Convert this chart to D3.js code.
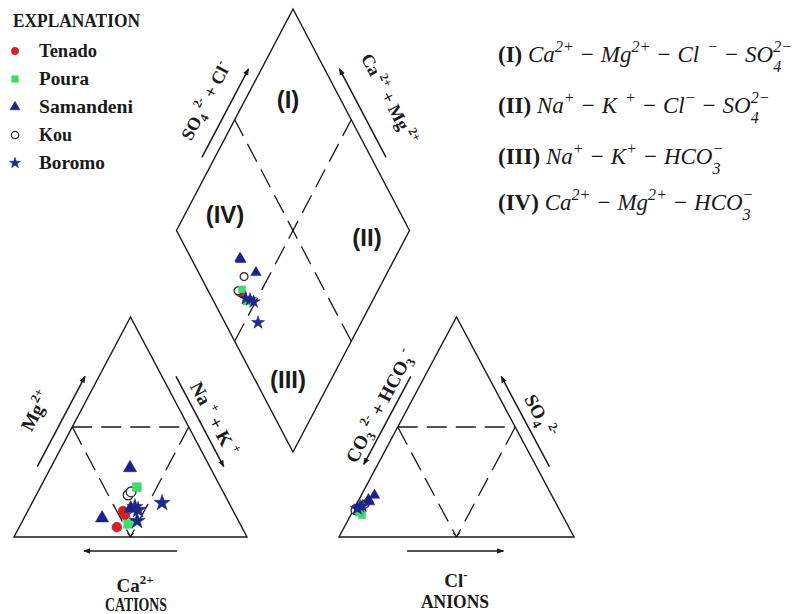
<!DOCTYPE html>
<html><head><meta charset="utf-8">
<script src="https://cdn.jsdelivr.net/npm/d3@7"></script>
<style>body{margin:0;background:#fff}svg{display:block}text{white-space:pre}</style>
</head><body>
<svg id="c" width="795" height="614"></svg>
<script>
// ---------------- DATA (percent of meq/L) ----------------
const groups = ["Tenado","Poura","Samandeni","Kou","Boromo"];
const sampleGroup = ["Tenado","Tenado","Tenado","Poura","Poura","Samandeni","Samandeni","Samandeni","Kou","Kou","Boromo","Boromo","Boromo","Boromo"];
const caPct   = [47.3,47.4,53.6,35.9,48.1,34.5,57.9,43.4,41.5,39.5,41.3,40.6,28.7,43.5];
const mgPct   = [11.8,10.0, 4.5,22.7, 5.9,31.4, 8.6,13.0,19.1,20.5,13.6,12.3,15.5, 7.3];
const naKPct  = [40.9,42.6,41.9,41.4,46.0,34.1,33.5,43.6,39.4,40.0,45.1,47.1,55.8,49.2];
const hco3Pct = [87.0,86.0,86.5,85.2,86.0,79.0,79.0,75.4,81.4,87.2,85.6,84.0,85.8,83.0];
const so4Pct  = [12.0,12.5,13.0,10.0,11.0,17.0,16.0,19.0,15.0,12.0,13.0,14.0,13.0,14.0];
const clPct   = [ 1.0, 1.5, 0.5, 4.8, 3.0, 4.0, 5.0, 5.6, 3.6, 0.8, 1.4, 2.0, 1.2, 3.0];
const regionLabels = ["(I)","(II)","(III)","(IV)"];

// ---------------- SETUP ----------------
const svg = d3.select("#c");
const INK = "#1a1a1a";
const SERIF = "'Liberation Serif','Times New Roman',serif";
const SANS = "'Liberation Sans',Arial,sans-serif";

const catX = d3.scaleLinear().domain([0,100]).range([14,247]);
const anX  = d3.scaleLinear().domain([0,100]).range([339,574]);
const triY = d3.scaleLinear().domain([0,100]).range([537,317]);
const diaX = d3.scaleLinear().domain([-100,100]).range([176.5,409.5]);
const diaY = d3.scaleLinear().domain([0,200]).range([452,9]);

const cat = (mg, na) => [catX(na + mg/2), triY(mg)];
const an  = (so4, cl) => [anX(cl + so4/2), triY(so4)];
const dia = (a, c) => [diaX(a - c), diaY(a + c)];

const styleOf = {
  Tenado:   {type:d3.symbolCircle,   fill:"#d8202a", stroke:"#b8141c", sw:0.6},
  Poura:    {type:d3.symbolSquare,   fill:"#3fdc6e", stroke:"#30c85c", sw:0.5},
  Samandeni:{type:d3.symbolTriangle, fill:"#1c2390", stroke:"#141a78", sw:0.5},
  Kou:      {type:d3.symbolCircle,   fill:"#ffffff", stroke:"#2a2a2a", sw:1.3},
  Boromo:   {type:d3.symbolStar,     fill:"#1c2a8c", stroke:"#152078", sw:0.5}
};

// arrow marker
const defs = svg.append("defs");
defs.append("marker").attr("id","ah").attr("viewBox","0 0 10 10").attr("refX",9).attr("refY",5)
  .attr("markerWidth",7).attr("markerHeight",7).attr("markerUnits","userSpaceOnUse").attr("orient","auto")
  .append("path").attr("d","M0,1 L10,5 L0,9 Z").attr("fill",INK);

const line = d3.line();
const frame = svg.append("g").attr("fill","none").attr("stroke",INK).attr("stroke-width",1.4);

// outlines
frame.append("path").attr("d", line([cat(0,0), cat(0,100), cat(100,0)]) + "Z");
frame.append("path").attr("d", line([an(0,0), an(0,100), an(100,0)]) + "Z");
frame.append("path").attr("d", line([dia(0,0), dia(100,0), dia(100,100), dia(0,100)]) + "Z");

// dashed subdivisions
const dash = svg.append("g").attr("fill","none").attr("stroke",INK).attr("stroke-width",1.3)
  .attr("stroke-dasharray","20,9");
[[cat(50,0),cat(50,50)],[cat(50,0),cat(0,50)],[cat(50,50),cat(0,50)],
 [an(50,0),an(50,50)],[an(50,0),an(0,50)],[an(50,50),an(0,50)],
 [dia(50,0),dia(50,100)],[dia(0,50),dia(100,50)]
].forEach(s => dash.append("path").attr("d", line(s)));
// tiny ticks at base midpoints
[cat(0,50), an(0,50)].forEach(p => {
  svg.append("path").attr("d", `M${p[0]-3},${p[1]-4} L${p[0]},${p[1]} L${p[0]+3},${p[1]-4}`)
    .attr("fill","none").attr("stroke",INK).attr("stroke-width",1);
});

// arrows along edges
function edgeArrow(A, B, t0, t1, dx, dy) {
  const p = t => [A[0]+(B[0]-A[0])*t + dx, A[1]+(B[1]-A[1])*t + dy];
  svg.append("path").attr("d", line([p(t0), p(t1)])).attr("stroke",INK).attr("stroke-width",1.5)
    .attr("fill","none").attr("marker-end","url(#ah)");
}
edgeArrow(cat(0,0), cat(100,0), 0.32, 0.73, -14, 0);
edgeArrow(cat(100,0), cat(0,100), 0.27, 0.68, 14, 0);
edgeArrow(cat(0,100), cat(0,0), 0.30, 0.70, 0, 14);
edgeArrow(an(100,0), an(0,0), 0.27, 0.67, -14, 0);
edgeArrow(an(0,100), an(100,0), 0.32, 0.73, 13, 0);
edgeArrow(an(0,0), an(0,100), 0.29, 0.70, 0, 14);
edgeArrow(dia(0,100), dia(100,100), 0.33, 0.73, -13, 0);
edgeArrow(dia(100,0), dia(100,100), 0.33, 0.73, 15, 0);

// ---------------- rich text helper ----------------
function rich(parent, segs, size, family, opts = {}) {
  const g = parent.append("g");
  const supScale = opts.supScale || 0.68;
  let x = 0, supX = 0, supW = 0;
  segs.forEach(s => {
    const k = s.k || "n";
    const fs = k === "n" ? size : size * supScale;
    let y = 0, sx = x + (s.gap || 0);
    if (k === "sup") y = -size * 0.45;
    if (k === "sub") y = size * 0.24;
    if (k === "stack") { sx = supX; y = size * 0.43; }
    const bold = s.bold !== undefined ? s.bold : !!opts.bold;
    const ital = s.italic !== undefined ? s.italic : !!opts.italic;
    const t = g.append("text").attr("x", sx).attr("y", y).attr("font-size", fs)
      .attr("font-family", s.family || family).attr("font-weight", bold ? "bold" : "normal")
      .attr("font-style", ital ? "italic" : "normal").attr("fill", INK).text(s.t);
    const w = t.node().getComputedTextLength();
    if (k === "sup") { supX = sx; supW = w; x = sx + w; }
    else if (k === "stack") { x = Math.max(supX + supW, sx + w); }
    else x = sx + w;
  });
  return {g, w: x};
}
function placeLabel(segs, cx, cy, angle, size, opts) {
  const holder = svg.append("g");
  const r = rich(holder, segs, size, SERIF, opts);
  holder.attr("transform", `translate(${cx},${cy}) rotate(${angle}) translate(${-r.w/2},${size*0.33})`);
}
function fitText(x, y, str, size, len, anchor) {
  return svg.append("text").attr("x", x).attr("y", y).attr("text-anchor", anchor || "start")
    .attr("font-family", SERIF).attr("font-weight", "bold").attr("font-size", size)
    .attr("textLength", len).attr("lengthAdjust", "spacingAndGlyphs").attr("fill", INK).text(str);
}

// axis labels
const B = {bold:true};
placeLabel([{t:"Mg"},{t:"2+",k:"sup",gap:1}], 36, 411, -62, 19, B);
placeLabel([{t:"Na"},{t:"+",k:"sup",gap:4},{t:" + K"},{t:"+",k:"sup",gap:4}], 214, 419, 62, 19, B);
placeLabel([{t:"Ca"},{t:"2+",k:"sup"}], 135, 586, 0, 19, B);
fitText(136, 611, "CATIONS", 18, 62, "middle");
placeLabel([{t:"CO"},{t:"3",k:"sub"},{t:"2-",k:"sup",gap:3},{t:" + HCO"},{t:"3",k:"sub"},{t:"-",k:"sup",gap:2}], 380, 406, -62, 19, B);
placeLabel([{t:"SO"},{t:"4",k:"sub"},{t:" 2-",k:"sup"}], 540, 416, 62, 19, B);
placeLabel([{t:"Cl"},{t:"-",k:"sup"}], 456, 581, 0, 19, B);
fitText(455, 608, "ANIONS", 18, 68, "middle");
placeLabel([{t:"SO"},{t:"4",k:"sub"},{t:"2-",k:"sup",gap:3},{t:" + Cl"},{t:"-",k:"sup",gap:1}], 206, 101, -62, 18, B);
placeLabel([{t:"Ca"},{t:" 2+",k:"sup"},{t:" + Mg"},{t:" 2+",k:"sup"}], 389, 99, 62, 18, B);

// region labels
const regionPos = [[288,100],[367,238],[288,380],[225,215]];
regionLabels.forEach((lab,i) => {
  svg.append("text").attr("x",regionPos[i][0]).attr("y",regionPos[i][1]+8).attr("text-anchor","middle")
    .attr("font-family",SANS).attr("font-weight","bold").attr("font-size",24).attr("fill",INK).text(lab);
});

// ---------------- formulas ----------------
const I = {italic:true, supScale:0.70};
const formulas = [
  [{t:"(I)",bold:true,italic:false},{t:" Ca"},{t:"2+",k:"sup"},{t:" − Mg"},{t:"2+",k:"sup"},{t:" − Cl"},{t:"−",k:"sup",gap:8},{t:" − SO"},{t:"2−",k:"sup"},{t:"4",k:"stack"}],
  [{t:"(II)",bold:true,italic:false},{t:" Na"},{t:"+",k:"sup"},{t:" − K"},{t:"+",k:"sup",gap:8},{t:" − Cl"},{t:"−",k:"sup"},{t:" − SO"},{t:"2−",k:"sup"},{t:"4",k:"stack"}],
  [{t:"(III)",bold:true,italic:false},{t:" Na"},{t:"+",k:"sup"},{t:" − K"},{t:"+",k:"sup"},{t:" − HCO"},{t:"−",k:"sup"},{t:"3",k:"stack"}],
  [{t:"(IV)",bold:true,italic:false},{t:" Ca"},{t:"2+",k:"sup"},{t:" − Mg"},{t:"2+",k:"sup"},{t:" − HCO"},{t:"−",k:"sup"},{t:"3",k:"stack"}]
];
const formulaY = [62,113,164,210];
formulas.forEach((segs,i) => {
  const h = svg.append("g").attr("transform",`translate(498,${formulaY[i]})`);
  rich(h, segs, 23, SERIF, I);
});

// ---------------- points ----------------
const samples = sampleGroup.map((g,i) => ({g, ca:caPct[i], mg:mgPct[i], na:naKPct[i], hco3:hco3Pct[i], so4:so4Pct[i], cl:clPct[i]}));
const drawOrder = ["Tenado","Kou","Poura","Samandeni","Boromo"];
const sorted = samples.slice().sort((a,b) => drawOrder.indexOf(a.g) - drawOrder.indexOf(b.g));
const sym = (g, size) => d3.symbol().type(styleOf[g].type).size(size)();
function plot(posFn, size) {
  svg.append("g").selectAll("path").data(sorted).join("path")
    .attr("d", d => sym(d.g, d.g === "Boromo" ? size*1.1 : size))
    .attr("transform", d => { const p = posFn(d); return `translate(${p[0]},${p[1]})`; })
    .attr("fill", d => styleOf[d.g].fill).attr("stroke", d => styleOf[d.g].stroke)
    .attr("stroke-width", d => styleOf[d.g].sw);
}
plot(d => cat(d.mg, d.na), 75);
plot(d => an(d.so4, d.cl), 48);
plot(d => dia(d.so4 + d.cl, d.ca + d.mg), 48);

// ---------------- legend ----------------
const legendLen = [58, 50, 94, 33, 66];
fitText(13, 27, "EXPLANATION", 18, 127);
groups.forEach((g,i) => {
  const y = 57 + i*28;
  svg.append("path").attr("d", sym(g, g==="Boromo"?38:42)).attr("transform",`translate(15,${y-6})`)
    .attr("fill",styleOf[g].fill).attr("stroke",styleOf[g].stroke).attr("stroke-width",styleOf[g].sw);
  fitText(39, y, g, 19, legendLen[i]);
});
</script>
</body></html>
